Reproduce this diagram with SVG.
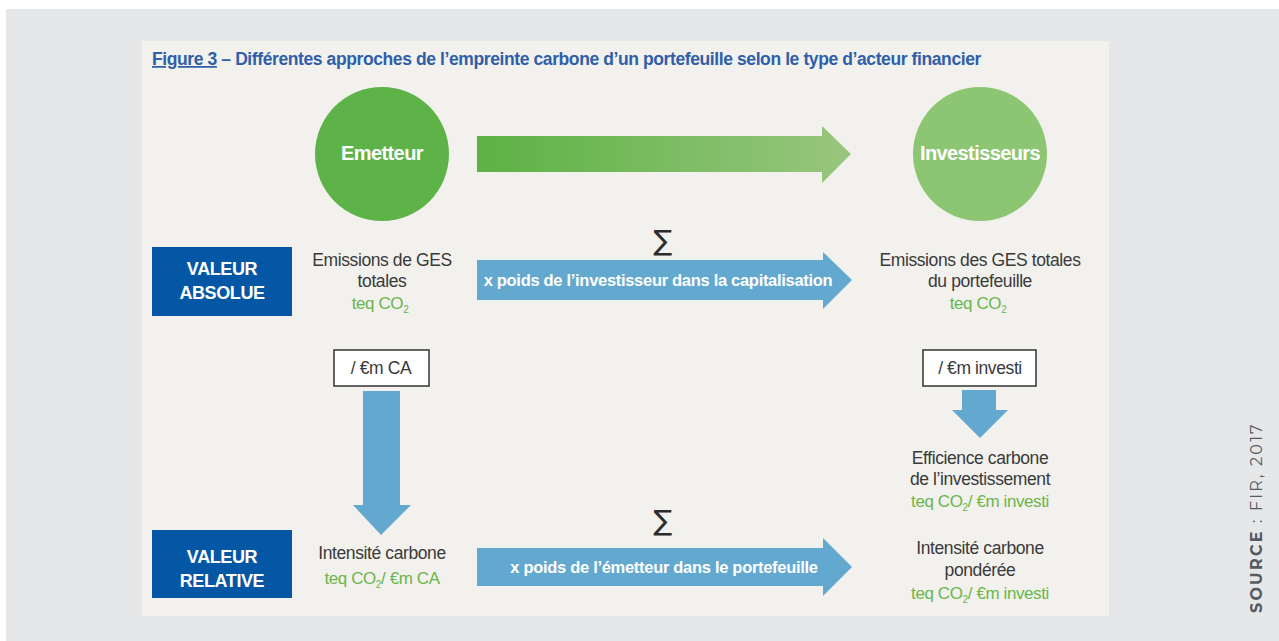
<svg xmlns="http://www.w3.org/2000/svg" width="1279" height="641" viewBox="0 0 1279 641">
<style>
.t{font-family:"Liberation Sans",Arial,sans-serif;font-size:17.5px;fill:#3a3a3a;text-anchor:middle;letter-spacing:-0.4px}
.g{font-family:"Liberation Sans",Arial,sans-serif;font-size:17px;fill:#6ab64a;text-anchor:middle;letter-spacing:-0.4px}
.w{font-family:"Liberation Sans",Arial,sans-serif;font-size:16.5px;font-weight:bold;fill:#ffffff;text-anchor:middle;letter-spacing:-0.3px}
.v{font-family:"Liberation Sans",Arial,sans-serif;font-size:18px;font-weight:bold;fill:#ffffff;text-anchor:middle;letter-spacing:-0.4px}
.wb{font-family:"Liberation Sans",Arial,sans-serif;font-size:20px;font-weight:bold;fill:#ffffff;text-anchor:middle;letter-spacing:-0.6px}
.sig{font-family:"DejaVu Sans",sans-serif;font-size:28px;fill:#2b2b2b;text-anchor:middle}
.blue{fill:#62a8cf}
.vbox{fill:#0457a4}
.div{fill:#ffffff;stroke:#333333;stroke-width:1.5}
</style>
<defs>
<linearGradient id="gg" x1="0" y1="0" x2="1" y2="0">
<stop offset="0" stop-color="#5cb244"/>
<stop offset="1" stop-color="#98c67e"/>
</linearGradient>
</defs>
<rect x="0" y="0" width="1279" height="641" fill="#ffffff"/>
<rect x="6" y="9" width="1273" height="632" fill="#e6e7e8"/>
<rect x="142" y="41" width="967" height="575" fill="#f2f1ee"/>
<text x="152" y="65" font-family="Liberation Sans,Arial,sans-serif" font-size="17.5" font-weight="bold" fill="#2f5fa8" letter-spacing="-0.4"><tspan text-decoration="underline">Figure 3</tspan> – Différentes approches de l’empreinte carbone d’un portefeuille selon le type d’acteur financier</text>
<text transform="translate(1262,613) rotate(-90)" font-family="Montserrat,'Noto Sans',sans-serif" font-size="16" fill="#555a63" letter-spacing="2.2"><tspan font-weight="bold">SOURCE</tspan> : FIR, 2017</text>

<g id="connectors">
<path d="M477,136 H822 V126 L851,154 L822,183 V172 H477 Z" fill="url(#gg)"/>
<path d="M477,260 H823 V252 L852,280 L823,309 V300 H477 Z" class="blue"/>
<path d="M477,548 H823 V538 L852,567 L823,596 V586 H477 Z" class="blue"/>
<path d="M363,391 H400 V505 H411 L381,535 L353,505 H363 Z" class="blue"/>
<path d="M962,390 H996 V410 H1008 L980,438 L952,410 H962 Z" class="blue"/>
<text class="w" x="658" y="286">x poids de l’investisseur dans la capitalisation</text>
<text class="w" x="664" y="573">x poids de l’émetteur dans le portefeuille</text>
<text class="sig" x="663" y="250">∑</text>
<text class="sig" x="663" y="530">∑</text>
</g>

<g id="emetteur">
<circle cx="382" cy="154" r="67" fill="#5db347"/>
<text class="wb" x="382" y="160">Emetteur</text>
</g>
<g id="investisseurs">
<circle cx="980" cy="154" r="67" fill="#8dc673"/>
<text class="wb" x="980" y="160">Investisseurs</text>
</g>
<g id="valeur-absolue">
<rect class="vbox" x="152" y="247" width="140" height="69"/>
<text class="v" x="222" y="275">VALEUR</text>
<text class="v" x="222" y="299">ABSOLUE</text>
</g>
<g id="valeur-relative">
<rect class="vbox" x="152" y="530" width="140" height="68"/>
<text class="v" x="222" y="563">VALEUR</text>
<text class="v" x="222" y="587">RELATIVE</text>
</g>
<g id="emissions-emetteur">
<text class="t" x="382" y="266">Emissions de GES</text>
<text class="t" x="382" y="287">totales</text>
<text class="g" x="380" y="309">teq CO<tspan font-size="10" dy="4">2</tspan></text>
</g>
<g id="emissions-portefeuille">
<text class="t" x="980" y="266">Emissions des GES totales</text>
<text class="t" x="980" y="287">du portefeuille</text>
<text class="g" x="978" y="309">teq CO<tspan font-size="10" dy="4">2</tspan></text>
</g>
<g id="div-ca">
<rect class="div" x="334" y="350" width="95" height="36"/>
<text class="t" x="381" y="374">/ €m CA</text>
</g>
<g id="div-investi">
<rect class="div" x="923" y="350" width="113" height="36"/>
<text class="t" x="980" y="374">/ €m investi</text>
</g>
<g id="efficience">
<text class="t" x="980" y="464">Efficience carbone</text>
<text class="t" x="980" y="485">de l’investissement</text>
<text class="g" x="980" y="507">teq CO<tspan font-size="10" dy="4">2</tspan><tspan dy="-4">/ €m investi</tspan></text>
</g>
<g id="intensite">
<text class="t" x="382" y="559">Intensité carbone</text>
<text class="g" x="382" y="584">teq CO<tspan font-size="10" dy="4">2</tspan><tspan dy="-4">/ €m CA</tspan></text>
</g>
<g id="intensite-ponderee">
<text class="t" x="980" y="554">Intensité carbone</text>
<text class="t" x="980" y="576">pondérée</text>
<text class="g" x="980" y="599">teq CO<tspan font-size="10" dy="4">2</tspan><tspan dy="-4">/ €m investi</tspan></text>
</g>
</svg>
